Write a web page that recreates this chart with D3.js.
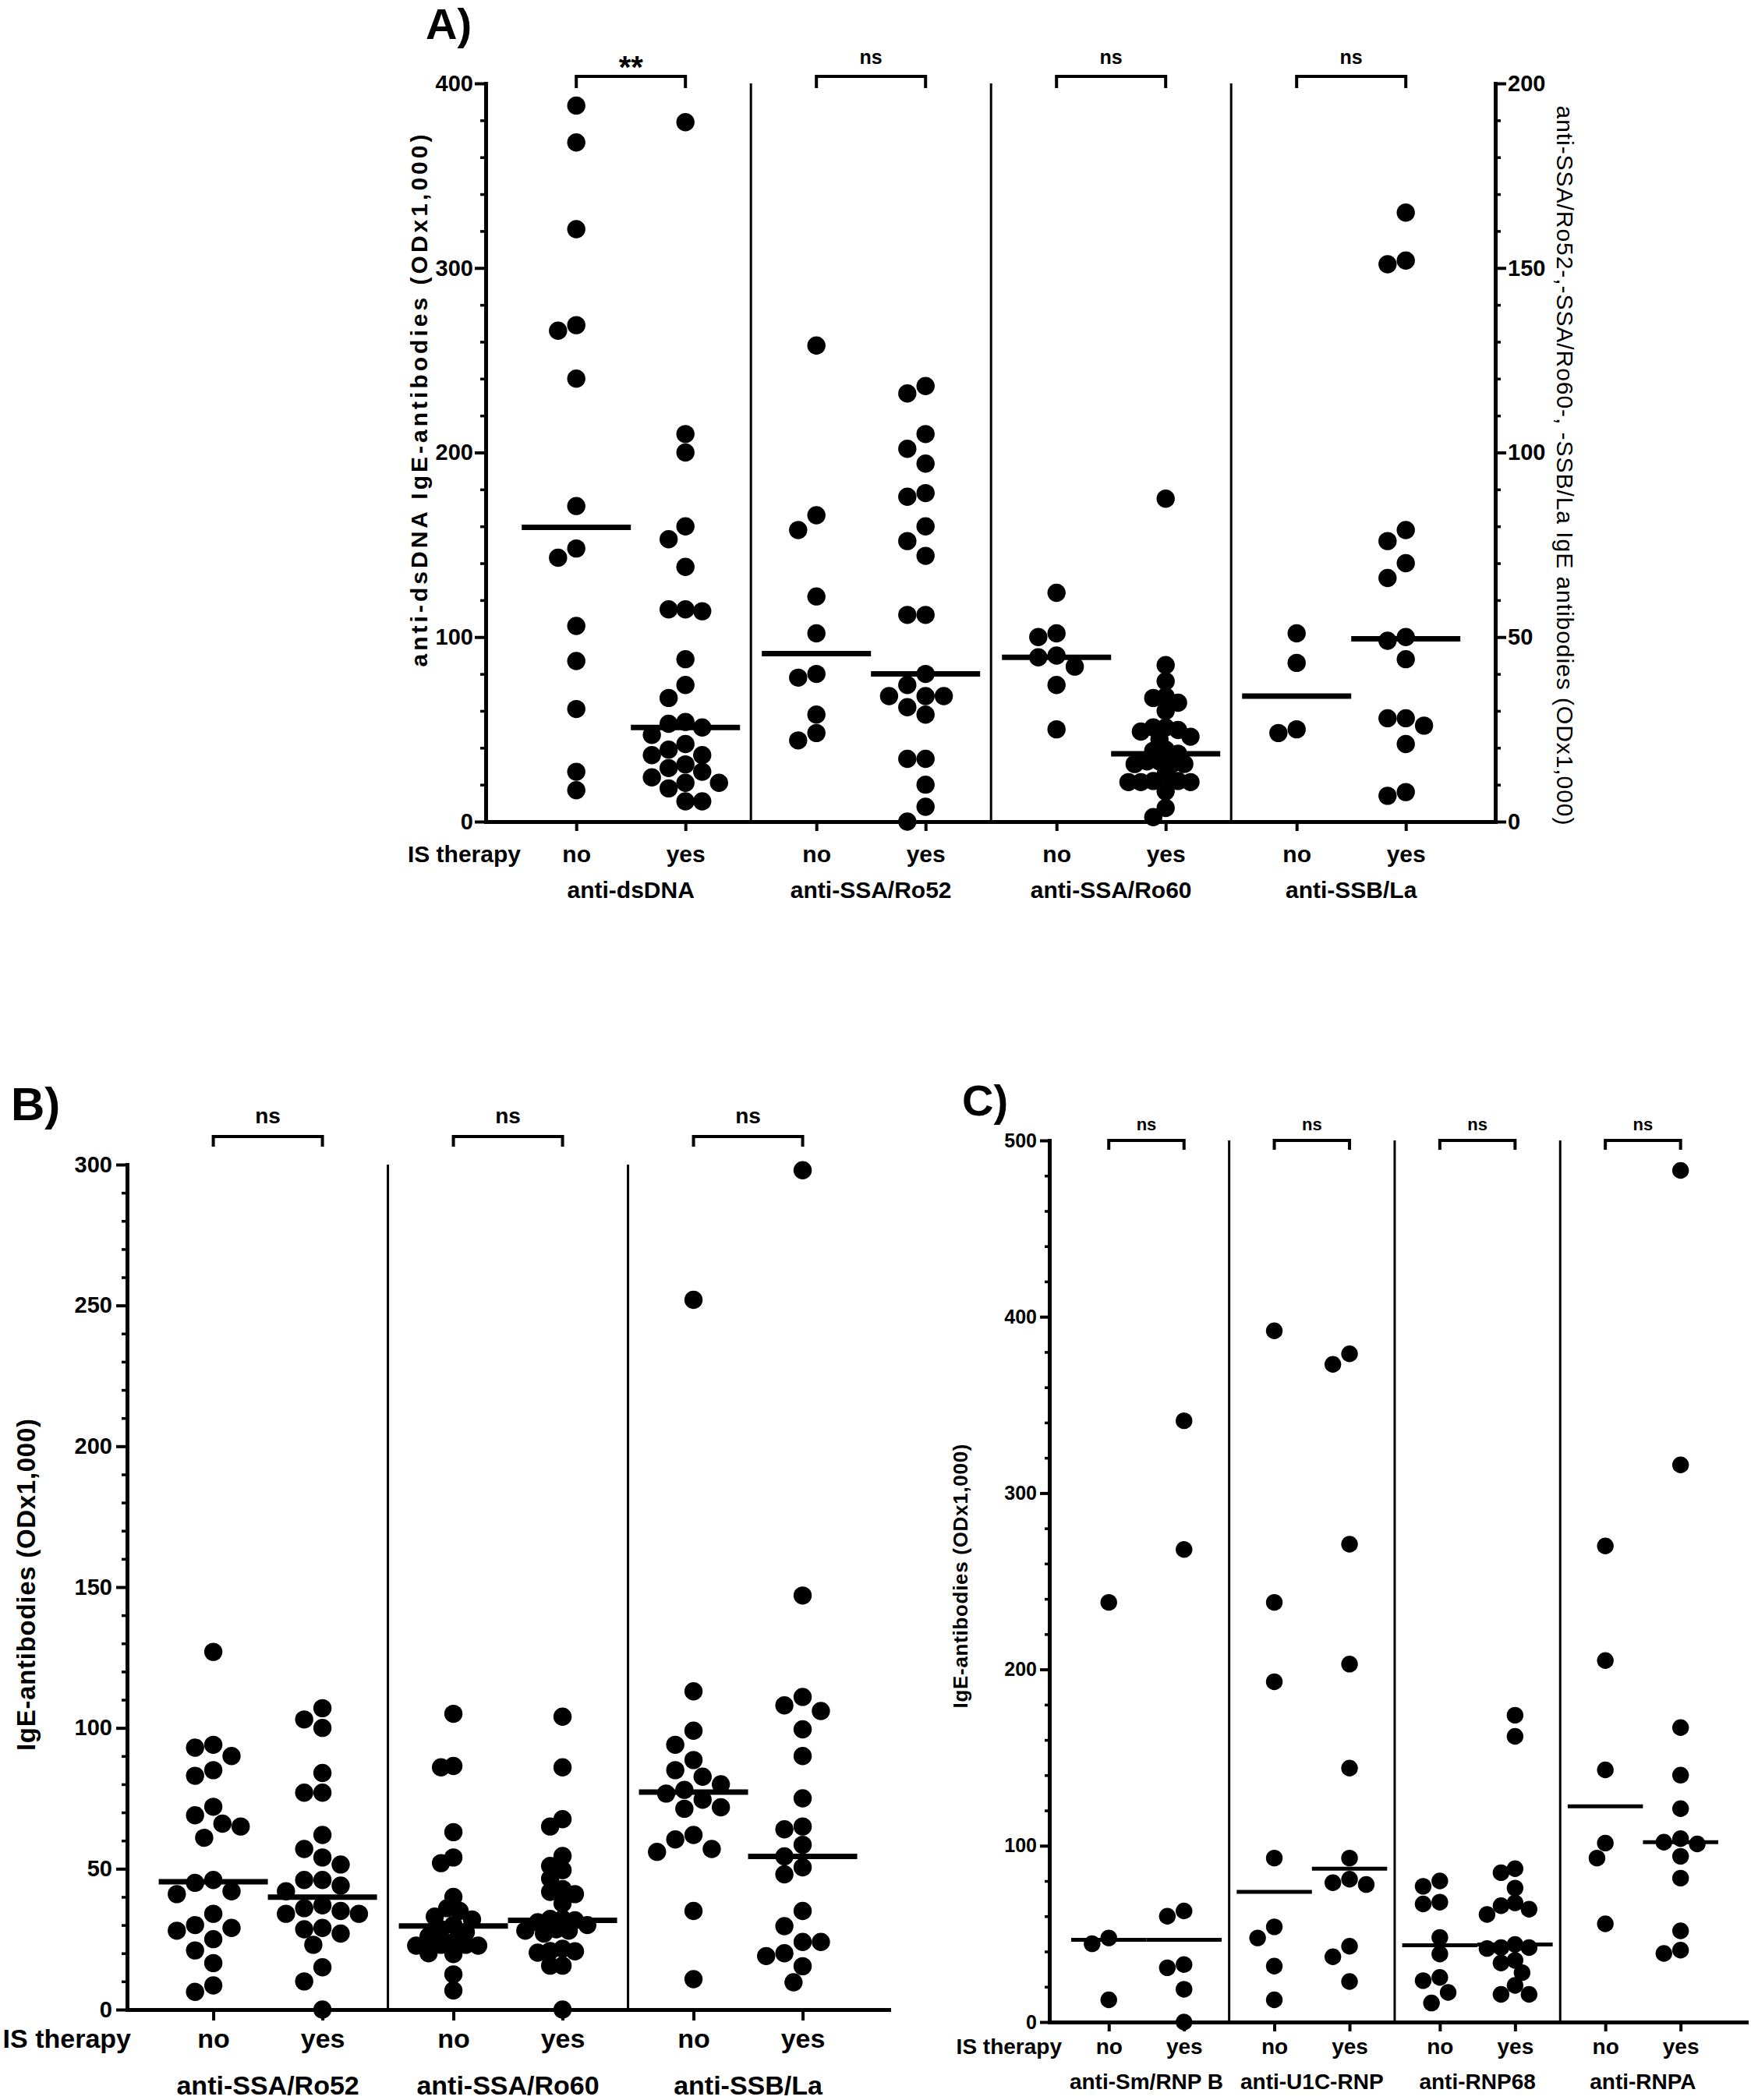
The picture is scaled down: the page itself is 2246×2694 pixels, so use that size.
<!doctype html>
<html>
<head>
<meta charset="utf-8">
<script src="https://d3js.org/d3.v7.min.js"></script>
<style>
  body { margin: 0; background: #fff; }
  svg { display: block; }
</style>
</head>
<body>
<svg width="2246" height="2694"></svg>
<script>
// ---------- data ----------
const therapy = ["no", "yes"];

// panel A (anti-dsDNA on left axis, the rest on right axis)
const groupsA = ["anti-dsDNA", "anti-SSA/Ro52", "anti-SSA/Ro60", "anti-SSB/La"];
const sigA = ["**", "ns", "ns", "ns"];
const dsdnaNo = [388, 368, 321, 269, 266, 240, 171, 148, 143, 106, 87, 61, 27, 17];
const dsdnaYes = [379, 210, 200, 160, 153, 138, 115, 115, 114, 88, 74, 67, 54, 53, 51, 47, 42, 39, 36, 36, 31, 29, 27, 24, 21, 21, 18, 11, 11];
const ro52No = [129, 83, 79, 61, 51, 40, 39, 29, 24, 22];
const ro52Yes = [118, 116, 105, 101, 97, 89, 88, 80, 76, 72, 56, 56, 40, 37, 34, 34, 34, 31, 29, 17, 17, 10, 4, 0];
const ro60No = [62, 51, 50, 45, 44.5, 42, 37, 25];
const ro60Yes = [87.5, 42.4, 38, 33.9, 33.5, 32.2, 30, 25.5, 25.5, 24.8, 24.4, 23, 22.3, 19.5, 19.2, 18.4, 16.3, 16.3, 15.6, 15.6, 15.6, 12.8, 11, 11, 10.7, 10.7, 10.7, 8.2, 3.7, 1.2];
const laNo = [51, 43, 25, 24];
const laYes = [165, 152, 151, 79, 76, 70, 66, 50, 49, 44, 28, 28, 26, 21, 8, 7];
const mediansA = [[159.5, 51], [45.5, 40], [44.5, 18.4], [34, 49.5]];
const ticksALeft = [0, 100, 200, 300, 400];
const ticksARight = [0, 50, 100, 150, 200];

// panel B
const groupsB = ["anti-SSA/Ro52", "anti-SSA/Ro60", "anti-SSB/La"];
const sigB = ["ns", "ns", "ns"];
const bRo52No = [127, 94, 93, 90, 85, 83, 72, 69, 66, 65, 61, 46, 45, 42, 41, 34, 30, 29, 28, 25, 21, 16.5, 8.6, 6.3];
const bRo52Yes = [107, 103, 100, 84, 77, 77, 62, 57, 54, 51.5, 46, 46, 44, 42, 37, 36, 35, 34, 34, 29, 28.5, 27, 23, 15, 10, 0];
const bRo60No = [105, 86.5, 86, 63, 54, 52, 40, 36, 35, 33, 32, 30, 28.5, 27.5, 26, 24, 23, 23, 22.7, 22.7, 20, 19.7, 12.5, 6.8];
const bRo60Yes = [104, 86, 67.6, 65, 54.5, 51, 49.5, 46.5, 42.8, 41.8, 41, 37.7, 32.2, 32.2, 31.7, 31, 30, 28.5, 28, 28, 27, 21.6, 20.8, 20.7, 20.2, 15.6, 15.6, 0];
const bLaNo = [252, 113, 99, 94, 88.6, 85, 82.7, 80, 78, 76.7, 74.5, 71.8, 71.3, 62, 60.4, 57, 56, 35, 10.8];
const bLaYes = [298, 147, 111, 108, 106, 99.5, 90, 75, 65, 64, 58.5, 54.4, 50.5, 48, 35, 29.6, 24, 24, 20, 19, 15.4, 9.7];
const mediansB = [[45.4, 39.9], [29.7, 31.7], [77.2, 54.4]];
const ticksB = [0, 50, 100, 150, 200, 250, 300];

// panel C
const groupsC = ["anti-Sm/RNP B", "anti-U1C-RNP", "anti-RNP68", "anti-RNPA"];
const sigC = ["ns", "ns", "ns", "ns"];
const cSmNo = [238, 47.7, 44.4, 12.6];
const cSmYes = [341, 268, 63, 60, 32.6, 30.8, 18.6, 0];
const cU1cNo = [392, 238, 193, 93, 54, 47.7, 31.7, 12.6];
const cU1cYes = [379, 373, 271, 203, 144, 93, 81, 79, 78, 43, 37, 23];
const cRnp68No = [80, 77, 68, 67, 48, 38.6, 25.3, 23.5, 16.8, 10.8];
const cRnp68Yes = [174, 162, 87, 84.7, 76, 67.6, 66, 64, 61, 44, 42.2, 42.2, 41.7, 35, 33.5, 28, 20.8, 15.7, 15.7];
const cRnpaNo = [270, 205, 143, 101.5, 93, 55.7];
const cRnpaYes = [483, 316, 167, 140, 121, 104, 102, 101, 94, 81.6, 51.7, 40.8, 38.9];
const mediansC = [[46.6, 46.6], [73.8, 87], [43.5, 44], [122.4, 102]];
const ticksC = [0, 100, 200, 300, 400, 500];

// ---------- layout ----------
const FONT = "'Liberation Sans', Arial, Helvetica, sans-serif";

const panels = [
  {
    letter: "A)", letterPos: [546, 50], letterSize: 56,
    groups: groupsA, sig: sigA, medians: mediansA, scaleOf: [0, 1, 1, 1],
    series: [[dsdnaNo, dsdnaYes], [ro52No, ro52Yes], [ro60No, ro60Yes], [laNo, laYes]],
    xRange: [623, 1918], xDomain: [-0.83, 8.42], yRange: [1054, 107],
    yAxes: [
      { domain: [0, 400], ticks: ticksALeft, minor: 20, side: "left" },
      { domain: [0, 200], ticks: ticksARight, minor: 10, side: "right" }
    ],
    r: 11.7, maxHalf: 50, medianW: 7,
    tickFont: 29, labelFont: 30, groupFont: 30, sigFont: 25, starFont: 40,
    tickPad: 2, majorLen: 14, minorLen: 7, xTickLen: 12,
    labelBase: 1106, groupBase: 1152, isRight: 668,
    bracketY: 98, legY: 113, sigBase: 82, starBase: 100
  },
  {
    letter: "B)", letterPos: [14, 1437], letterSize: 60,
    groups: groupsB, sig: sigB, medians: mediansB, scaleOf: [0, 0, 0],
    series: [[bRo52No, bRo52Yes], [bRo60No, bRo60Yes], [bLaNo, bLaYes]],
    xRange: [163, 1140], xDomain: [-0.79, 6.189], yRange: [2578, 1494],
    yAxes: [{ domain: [0, 300], ticks: ticksB, minor: 10, side: "left" }],
    r: 11.7, maxHalf: 50, medianW: 7,
    tickFont: 29, labelFont: 34, groupFont: 34, sigFont: 28, starFont: 40,
    tickPad: 5, majorLen: 14, minorLen: 7, xTickLen: 14,
    labelBase: 2627, groupBase: 2687, isRight: 168,
    bracketY: 1458, legY: 1471, sigBase: 1441, starBase: 1460
  },
  {
    letter: "C)", letterPos: [1234, 1431], letterSize: 56,
    groups: groupsC, sig: sigC, medians: mediansC, scaleOf: [0, 0, 0, 0],
    series: [[cSmNo, cSmYes], [cU1cNo, cU1cYes], [cRnp68No, cRnp68Yes], [cRnpaNo, cRnpaYes]],
    xRange: [1346, 2240], xDomain: [-0.79, 8.474], yRange: [2594, 1463],
    yAxes: [{ domain: [0, 500], ticks: ticksC, minor: 20, side: "left" }],
    r: 10.7, maxHalf: 36, medianW: 5,
    tickFont: 25, labelFont: 28, groupFont: 28, sigFont: 22, starFont: 34,
    tickPad: 4, majorLen: 12, minorLen: 6, xTickLen: 12,
    labelBase: 2635, groupBase: 2680, isRight: 1362,
    bracketY: 1463, legY: 1475, sigBase: 1450, starBase: 1465
  }
];

const titles = [
  { text: "anti-dsDNA IgE-antibodies (ODx1,000)", cx: 537, cy: 514, len: 683, size: 30, rot: -90, weight: "bold" },
  { text: "anti-SSA/Ro52-,-SSA/Ro60-, -SSB/La IgE antibodies (ODx1,000)", cx: 2007, cy: 597, len: 923, size: 30, rot: 90, weight: "normal" },
  { text: "IgE-antibodies (ODx1,000)", cx: 33, cy: 2033, len: 426, size: 33, rot: -90, weight: "bold" },
  { text: "IgE-antibodies (ODx1,000)", cx: 1232, cy: 2022, len: 339, size: 26, rot: -90, weight: "bold" }
];

// horizontal spread of dots that sit at similar heights (column scatter)
function swarm(vals, y, r, maxHalf) {
  const order = d3.range(vals.length).sort((a, b) => vals[b] - vals[a]);
  let f = 1, off;
  while (true) {
    const minD = 2 * r * f, s = minD / 2;
    const placed = [];
    off = new Array(vals.length);
    for (const i of order) {
      const py = y(vals[i]);
      for (let k = 0; ; k++) {
        const c = k === 0 ? 0 : (k % 2 ? -1 : 1) * Math.ceil(k / 2) * s;
        if (placed.every(p => Math.hypot(p.x - c, p.y - py) >= minD - 0.5)) {
          off[i] = c;
          placed.push({ x: c, y: py });
          break;
        }
      }
    }
    if (d3.max(off, v => Math.abs(v)) <= maxHalf || f < 0.5) break;
    f -= 0.04;
  }
  return off;
}

const svg = d3.select("svg");
svg.append("rect").attr("width", 2246).attr("height", 2694).attr("fill", "#fff");

panels.forEach(p => {
  const g = svg.append("g");
  const x = d3.scaleLinear().domain(p.xDomain).range(p.xRange);
  const ys = p.yAxes.map(a => d3.scaleLinear().domain(a.domain).range(p.yRange));
  const step = x(1) - x(0);
  const slot = (gi, t) => gi * 2.2 + t;
  const y0 = p.yRange[0], yTop = p.yRange[1];

  // panel letter
  g.append("text").attr("x", p.letterPos[0]).attr("y", p.letterPos[1])
    .attr("font-family", FONT).attr("font-weight", "bold").attr("font-size", p.letterSize)
    .text(p.letter);

  // separators between antigen groups
  g.selectAll("line.sep").data(p.groups.slice(1)).join("line").attr("class", "sep")
    .attr("x1", (d, i) => x(slot(i + 1, -0.6))).attr("x2", (d, i) => x(slot(i + 1, -0.6)))
    .attr("y1", yTop).attr("y2", y0)
    .attr("stroke", "#000").attr("stroke-width", 3);

  // significance brackets
  const bracket = d3.line();
  p.groups.forEach((name, gi) => {
    const xa = x(slot(gi, 0)), xb = x(slot(gi, 1));
    g.append("path")
      .attr("d", bracket([[xa, p.legY], [xa, p.bracketY], [xb, p.bracketY], [xb, p.legY]]))
      .attr("fill", "none").attr("stroke", "#000").attr("stroke-width", 4);
    const star = p.sig[gi] !== "ns";
    g.append("text").attr("x", (xa + xb) / 2).attr("y", star ? p.starBase : p.sigBase)
      .attr("text-anchor", "middle").attr("font-family", FONT).attr("font-weight", "bold")
      .attr("font-size", star ? p.starFont : p.sigFont)
      .text(p.sig[gi]);
  });

  // dots and median lines
  p.series.forEach((pair, gi) => {
    const yS = ys[p.scaleOf[gi]];
    pair.forEach((vals, t) => {
      const cx = x(slot(gi, t));
      const offs = swarm(vals, yS, p.r, p.maxHalf);
      g.append("g").selectAll("circle").data(vals).join("circle")
        .attr("cx", (d, i) => cx + offs[i]).attr("cy", d => yS(d))
        .attr("r", p.r).attr("fill", "#000");
      const m = p.medians[gi][t];
      g.append("line")
        .attr("x1", cx - step / 2).attr("x2", cx + step / 2)
        .attr("y1", yS(m)).attr("y2", yS(m))
        .attr("stroke", "#000").attr("stroke-width", p.medianW);
    });
  });

  // y axes
  p.yAxes.forEach((a, k) => {
    const sc = ys[k];
    const axisFn = a.side === "left" ? d3.axisLeft : d3.axisRight;
    const xPos = a.side === "left" ? p.xRange[0] : p.xRange[1];
    const minorVals = d3.range(a.domain[0], a.domain[1] + 1e-9, a.minor).filter(v => !a.ticks.includes(v));
    const gm = g.append("g").attr("transform", `translate(${xPos},0)`)
      .call(axisFn(sc).tickValues(minorVals).tickSize(p.minorLen).tickSizeOuter(0).tickFormat(""));
    gm.select("path.domain").remove();
    gm.selectAll(".tick line").attr("stroke-width", 3.5);
    const ga = g.append("g").attr("transform", `translate(${xPos},0)`)
      .call(axisFn(sc).tickValues(a.ticks).tickSize(p.majorLen).tickSizeOuter(0).tickPadding(p.tickPad));
    ga.attr("font-family", FONT).attr("font-size", p.tickFont).attr("font-weight", "bold");
    ga.select("path.domain").attr("stroke-width", 5).attr("stroke-linecap", "square");
    ga.selectAll(".tick line").attr("stroke-width", 4);
    ga.selectAll(".tick text").attr("fill", "#000");
  });

  // x axis with no / yes labels
  const slots = [];
  p.groups.forEach((nm, gi) => therapy.forEach((t, ti) => slots.push(slot(gi, ti))));
  const pad = p.labelBase - y0 - p.xTickLen - 0.71 * p.labelFont;
  const gx = g.append("g").attr("transform", `translate(0,${y0})`)
    .call(d3.axisBottom(x).tickValues(slots).tickSize(p.xTickLen).tickSizeOuter(0)
      .tickPadding(pad).tickFormat((d, i) => therapy[i % 2]));
  gx.attr("font-family", FONT).attr("font-size", p.labelFont).attr("font-weight", "bold");
  gx.select("path.domain").attr("stroke-width", 5).attr("stroke-linecap", "square");
  gx.selectAll(".tick line").attr("stroke-width", 4);
  gx.selectAll(".tick text").attr("fill", "#000");

  g.append("text").attr("x", p.isRight).attr("y", p.labelBase).attr("text-anchor", "end")
    .attr("font-family", FONT).attr("font-weight", "bold").attr("font-size", p.labelFont)
    .text("IS therapy");

  g.selectAll("text.grp").data(p.groups).join("text").attr("class", "grp")
    .attr("x", (d, gi) => (x(slot(gi, 0)) + x(slot(gi, 1))) / 2).attr("y", p.groupBase)
    .attr("text-anchor", "middle").attr("font-family", FONT).attr("font-weight", "bold")
    .attr("font-size", p.groupFont)
    .text(d => d);
});

// axis titles
titles.forEach(t => {
  svg.append("text")
    .attr("transform", `translate(${t.cx},${t.cy}) rotate(${t.rot})`)
    .attr("text-anchor", "middle").attr("dominant-baseline", "central")
    .attr("font-family", FONT).attr("font-weight", t.weight).attr("font-size", t.size)
    .attr("textLength", t.len).attr("lengthAdjust", "spacing")
    .text(t.text);
});
</script>
</body>
</html>
